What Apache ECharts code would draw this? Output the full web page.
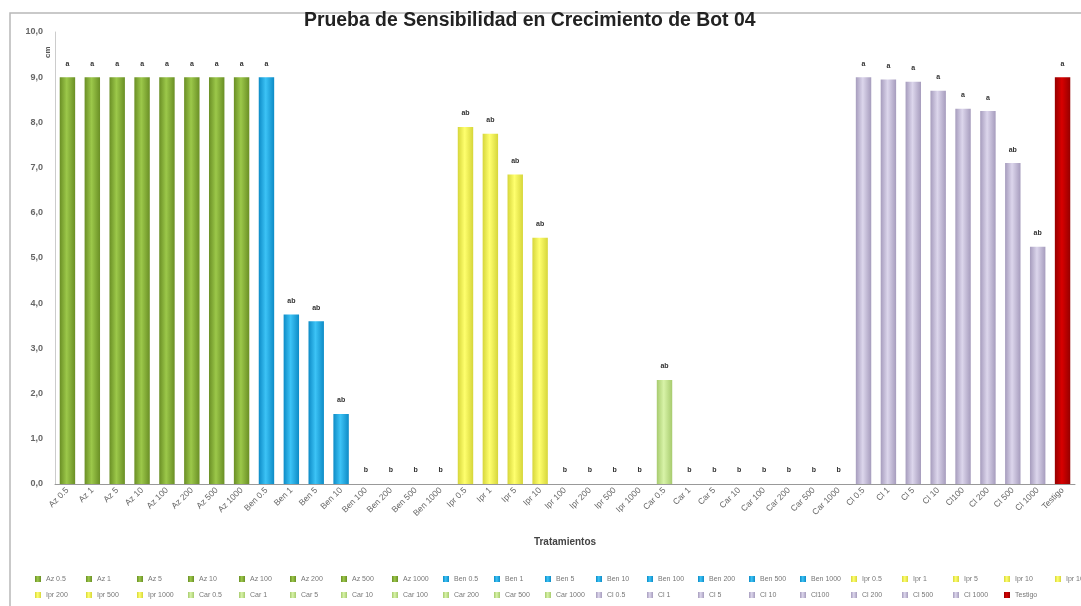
<!DOCTYPE html>
<html>
<head>
<meta charset="utf-8">
<title>Prueba de Sensibilidad en Crecimiento de Bot 04</title>
<script src="https://cdn.jsdelivr.net/npm/echarts@6/dist/echarts.min.js"></script>
<style>
  html, body { margin: 0; padding: 0; background: #fff; }
  #chart { width: 1081px; height: 606px; }
</style>
</head>
<body>
<div id="chart"></div>
<script>
  // tratamientos (eje X)
  const categorias = [
    'Az 0.5', 'Az 1', 'Az 5', 'Az 10', 'Az 100', 'Az 200', 'Az 500', 'Az 1000',
    'Ben 0.5', 'Ben 1', 'Ben 5', 'Ben 10', 'Ben 100', 'Ben 200', 'Ben 500', 'Ben 1000',
    'Ipr 0.5', 'Ipr 1', 'Ipr 5', 'Ipr 10', 'Ipr 100', 'Ipr 200', 'Ipr 500', 'Ipr 1000',
    'Car 0.5', 'Car 1', 'Car 5', 'Car 10', 'Car 100', 'Car 200', 'Car 500', 'Car 1000',
    'Cl 0.5', 'Cl 1', 'Cl 5', 'Cl 10', 'Cl100', 'Cl 200', 'Cl 500', 'Cl 1000',
    'Testigo'
  ];
  // crecimiento en cm
  const valores = [
    9.0, 9.0, 9.0, 9.0, 9.0, 9.0, 9.0, 9.0,
    9.0, 3.75, 3.6, 1.55, 0, 0, 0, 0,
    7.9, 7.75, 6.85, 5.45, 0, 0, 0, 0,
    2.3, 0, 0, 0, 0, 0, 0, 0,
    9.0, 8.95, 8.9, 8.7, 8.3, 8.25, 7.1, 5.25,
    9.0
  ];
  // letras de significancia
  const letras = [
    'a', 'a', 'a', 'a', 'a', 'a', 'a', 'a',
    'a', 'ab', 'ab', 'ab', 'b', 'b', 'b', 'b',
    'ab', 'ab', 'ab', 'ab', 'b', 'b', 'b', 'b',
    'ab', 'b', 'b', 'b', 'b', 'b', 'b', 'b',
    'a', 'a', 'a', 'a', 'a', 'a', 'ab', 'ab',
    'a'
  ];
  const marcasY = [0, 1, 2, 3, 4, 5, 6, 7, 8, 9, 10];

  // colores por grupo [oscuro, claro]
  const grupos = ['Az', 'Ben', 'Ipr', 'Car', 'Cl', 'Testigo'];
  const coloresGrupo = [
    ['#6a8f25', '#9cc84a'],
    ['#0d8bc6', '#3cc3f6'],
    ['#d6d63a', '#ffff6e'],
    ['#a7cb6e', '#d8f3a8'],
    ['#a69cbd', '#dcd6ec'],
    ['#960000', '#d80000']
  ];

  function colorDe(nombre) {
    let g = grupos.findIndex(p => nombre.startsWith(p));
    let c = coloresGrupo[g];
    return new echarts.graphic.LinearGradient(0, 0, 1, 0, [
      { offset: 0, color: c[0] },
      { offset: 0.45, color: c[1] },
      { offset: 1, color: c[0] }
    ]);
  }

  const myChart = echarts.init(document.getElementById('chart'));

  const series = categorias.map((nombre, i) => ({
    name: nombre,
    type: 'bar',
    stack: 'total',
    barWidth: '62%',
    itemStyle: { color: colorDe(nombre) },
    label: {
      show: true,
      position: 'top',
      distance: 10,
      formatter: letras[i],
      fontSize: 7,
      fontWeight: 'bold',
      color: '#333',
      fontFamily: 'Liberation Sans'
    },
    data: categorias.map((c, j) => j === i ? valores[i] : '-')
  }));

  const option = {
    animation: false,
    title: {
      text: 'Prueba de Sensibilidad en Crecimiento de Bot 04',
      left: 299,
      top: 6,
      textStyle: {
        fontFamily: 'Liberation Sans',
        fontWeight: 'bold',
        fontSize: 19.4,
        color: '#222'
      }
    },
    legend: {
      left: 30,
      top: 569,
      width: 1070,
      itemWidth: 6,
      itemHeight: 6,
      itemGap: 6,
      icon: 'rect',
      textStyle: {
        fontFamily: 'Liberation Sans',
        fontSize: 7,
        color: '#777',
        width: 34,
        lineHeight: 10,
        overflow: 'truncate'
      },
      data: categorias
    },
    graphic: [
      // borde del área del gráfico
      {
        type: 'rect',
        shape: { x: 10, y: 13, width: 1100, height: 620 },
        style: { fill: 'none', stroke: '#b8b8b8', lineWidth: 1.5 },
        silent: true
      },
      {
        type: 'text',
        x: 44,
        y: 58,
        rotation: Math.PI / 2,
        style: { text: 'cm', font: 'bold 8px Liberation Sans', fill: '#555' }
      }
    ],
    grid: {
      left: 55,
      right: 6,
      top: 32,
      bottom: 122
    },
    xAxis: {
      type: 'category',
      data: categorias,
      name: 'Tratamientos',
      nameLocation: 'middle',
      nameGap: 53,
      nameTextStyle: {
        fontFamily: 'Liberation Sans',
        fontWeight: 'bold',
        fontSize: 10,
        color: '#444'
      },
      axisLine: { lineStyle: { color: '#999' } },
      axisTick: { show: false },
      axisLabel: {
        interval: 0,
        rotate: 45,
        fontSize: 8.5,
        color: '#666',
        fontFamily: 'Liberation Sans',
        margin: 5
      }
    },
    yAxis: {
      type: 'value',
      min: marcasY[0],
      max: marcasY[marcasY.length - 1],
      interval: 1,
      splitLine: { show: false },
      axisLine: { show: true, lineStyle: { color: '#ccc' } },
      axisTick: { show: false },
      axisLabel: {
        fontSize: 9,
        fontWeight: 'bold',
        color: '#666',
        fontFamily: 'Liberation Sans',
        margin: 12,
        formatter: function (v) {
          return v.toFixed(1).replace('.', ',');
        }
      }
    },
    series: series
  };

  myChart.setOption(option);
</script>
</body>
</html>
